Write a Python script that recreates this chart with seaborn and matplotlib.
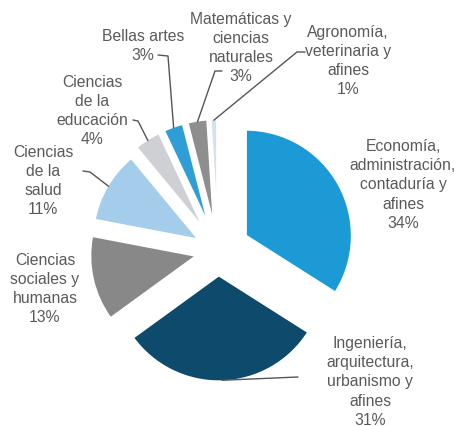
import numpy as np
import matplotlib
matplotlib.use("Agg")
import matplotlib.pyplot as plt
import seaborn as sns

# data
categories = [
    "Economía,\nadministración,\ncontaduría y\nafines",
    "Ingeniería,\narquitectura,\nurbanismo y\nafines",
    "Ciencias\nsociales y\nhumanas",
    "Ciencias\nde la\nsalud",
    "Ciencias\nde la\neducación",
    "Bellas artes",
    "Matemáticas y\nciencias\nnaturales",
    "Agronomía,\nveterinaria y\nafines",
]
shares = [34, 31, 13, 11, 4, 3, 3, 1]
colors = ["#1b9ad6", "#0e4a6b", "#888888", "#a4cdeb",
          "#cfd0d4", "#2f9dd6", "#8e8e8e", "#d4e2ef"]
explode = [0.30, 0.23, 0.21, 0.21, 0.245, 0.245, 0.245, 0.245]

# layout (image pixel coords, y down): label centre, leader start / elbow
H = 427
label_pos = [(403, 185), (370, 382), (45, 289), (43, 181),
             (92, 111), (143, 46), (241, 48), (348, 61)]
leaders = [None, [(298, 378)], None, [(83, 172), (90, 173)],
           [(133, 121), (138, 122)], [(158, 56), (168, 57)],
           [(222, 72), (215, 72)], [(305, 53), (297, 53)]]

sns.set_theme(style="white")
plt.rcParams['font.family'] = ['Liberation Sans', 'DejaVu Sans']

fig = plt.figure(figsize=(4.6, 4.27), dpi=100)
ax = fig.add_axes([0, 0, 1, 1])

center = (218, H - 252)
radius = 106
# pie() offsets wedges by explode in data units, so scale by radius
wedges, _ = ax.pie(shares, colors=colors, explode=[e * radius for e in explode],
                   startangle=90, counterclock=False, center=center, radius=radius,
                   wedgeprops=dict(edgecolor="white", linewidth=1.5))

text_color = "#5a5a5a"
for w, cat, share, pos, lead in zip(wedges, categories, shares, label_pos, leaders):
    ax.text(pos[0], H - pos[1], f"{cat}\n{share}%", ha="center", va="center",
            fontsize=11.3, color=text_color, linespacing=1.36)
    if lead is None:
        continue
    mid = np.deg2rad((w.theta1 + w.theta2) / 2)
    end = (w.center[0] + w.r * 0.99 * np.cos(mid), w.center[1] + w.r * 0.99 * np.sin(mid))
    xs = [p[0] for p in lead] + [end[0]]
    ys = [H - p[1] for p in lead] + [end[1]]
    ax.plot(xs, ys, color="#555555", lw=1)

ax.set_xlim(0, 460)
ax.set_ylim(0, H)
ax.set_aspect("equal")
ax.axis("off")

fig.savefig("out.png", dpi=100, facecolor="white")
